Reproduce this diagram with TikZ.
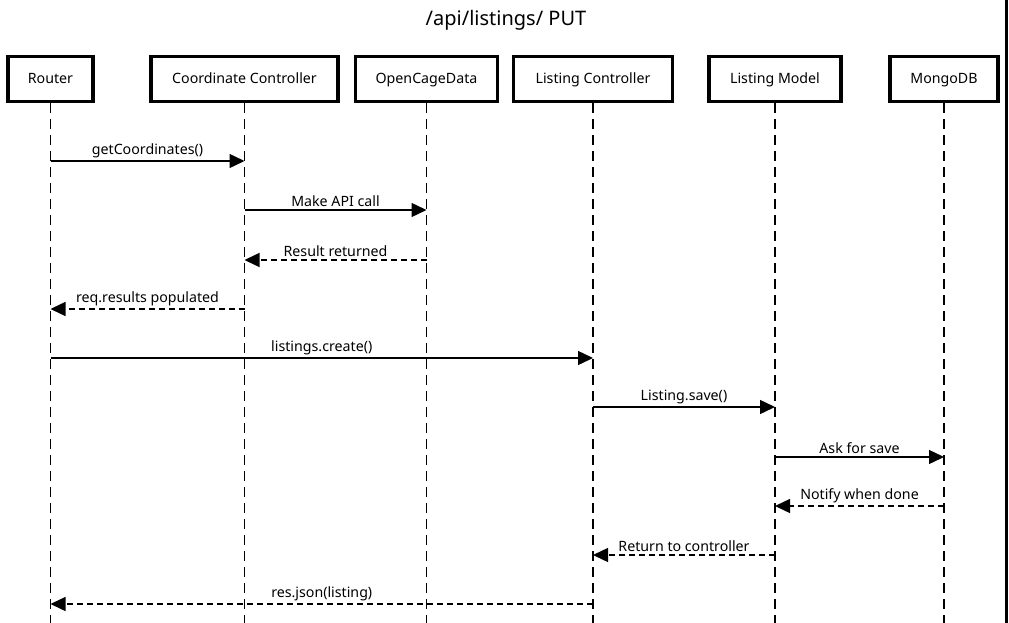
\documentclass[tikz,border=0pt]{standalone}
\usepackage{fontspec}
\setmainfont{Noto Sans}
\usetikzlibrary{arrows.meta}
\begin{document}
\begin{tikzpicture}[x=1pt,y=-1pt,
  actor/.style={draw,line width=3.2pt,minimum height=45pt,inner sep=0pt,text height=10pt,text depth=1pt,font=\fontsize{14.2}{17}\selectfont},
  life/.style={line width=1.5pt,dash pattern=on 10pt off 6pt},
  msg/.style={line width=1.4pt,-{Triangle[length=15pt,width=14pt]}},
  ret/.style={msg,dash pattern=on 6pt off 4pt},
  lbl/.style={above,inner sep=2.5pt,font=\fontsize{14.2}{17}\selectfont}]
\useasboundingbox (0,0) rectangle (1009,623);
\draw[line width=3pt] (1006.5,0) -- (1006.5,623);
\node[font=\fontsize{20}{24}\selectfont] (title) at (506,20) {/api/listings/ PUT};
\node[actor,minimum width=85pt] (r) at (50.5,79) {Router};
\node[actor,minimum width=187pt] (cc) at (244.5,79) {Coordinate Controller};
\node[actor,minimum width=142pt] (oc) at (426.5,79) {OpenCageData};
\node[actor,minimum width=159pt] (lc) at (593,79) {Listing Controller};
\node[actor,minimum width=132pt] (lm) at (775,79) {Listing Model};
\node[actor,minimum width=108pt] (db) at (944,79) {MongoDB};
\foreach \n in {r,cc,oc,lc,lm,db}{
  \coordinate (\n-end) at (\n.south |- 0,623);
  \draw[life] (\n.south) -- (\n-end);
}
\draw[msg] (r.south |- 0,161) -- node[lbl]{getCoordinates()} (cc.south |- 0,161);
\draw[msg] (cc.south |- 0,210) -- node[lbl]{Make API call} (oc.south |- 0,210);
\draw[ret] (oc.south |- 0,260) -- node[lbl]{Result returned} (cc.south |- 0,260);
\draw[ret] (cc.south |- 0,309) -- node[lbl]{req.results populated} (r.south |- 0,309);
\draw[msg] (r.south |- 0,358) -- node[lbl]{listings.create()} (lc.south |- 0,358);
\draw[msg] (lc.south |- 0,407) -- node[lbl]{Listing.save()} (lm.south |- 0,407);
\draw[msg] (lm.south |- 0,457) -- node[lbl]{Ask for save} (db.south |- 0,457);
\draw[ret] (db.south |- 0,506) -- node[lbl]{Notify when done} (lm.south |- 0,506);
\draw[ret] (lm.south |- 0,555) -- node[lbl]{Return to controller} (lc.south |- 0,555);
\draw[ret] (lc.south |- 0,604) -- node[lbl]{res.json(listing)} (r.south |- 0,604);
\end{tikzpicture}
\end{document}
